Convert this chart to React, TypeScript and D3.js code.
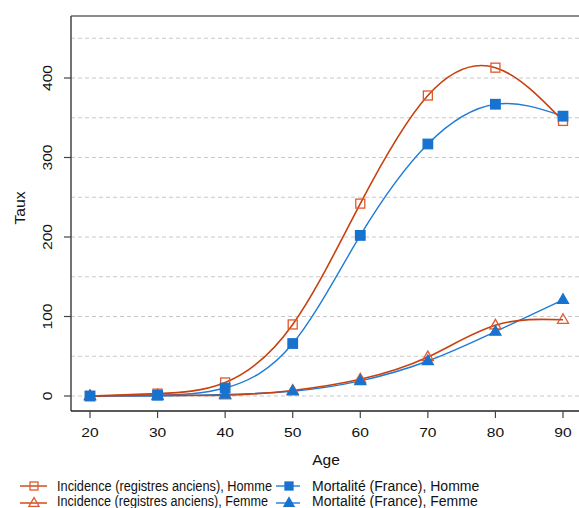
import React from "react";
import * as d3 from "d3";

const ages = [20, 30, 40, 50, 60, 70, 80, 90];
const incHomme = [0, 3, 17, 90, 242, 378, 413, 346];
const incFemme = [0, 1, 1, 7, 21, 49, 89, 96];
const mortHomme = [0, 1, 10, 66, 202, 317, 367, 352];
const mortFemme = [0, 0, 2, 6, 19, 44, 81, 121];
const xTicks = [20, 30, 40, 50, 60, 70, 80, 90];
const yTicks = [0, 100, 200, 300, 400];
const gridVals = [0, 50, 100, 150, 200, 250, 300, 350, 400, 450];
const legendLabels = [
  "Incidence (registres anciens), Homme",
  "Incidence (registres anciens), Femme",
  "Mortalité (France), Homme",
  "Mortalité (France), Femme",
];

const W = 579;
const H = 508;
const ORANGE = "#C8410F";
const ORANGE_M = "#E0592B";
const BLUE = "#1F7BD6";
const BLUE_M = "#1873CF";
const FONT = "Liberation Sans, Arial, Helvetica, sans-serif";

export default function App() {
  const x = d3.scaleLinear().domain([20, 90]).range([90, 563]);
  const y = d3.scaleLinear().domain([0, 400]).range([396, 78]);
  const line = d3
    .line<[number, number]>()
    .x((d) => x(d[0]))
    .y((d) => y(d[1]))
    .curve(d3.curveNatural);
  const pts = (vals: number[]) => ages.map((a, i) => [a, vals[i]] as [number, number]);

  const left = 71;
  const top = 16;
  const bottom = 411;

  const square = (cx: number, cy: number, fill: boolean, color: string, key: string, s = 9) => (
    <rect
      key={key}
      x={cx - s / 2}
      y={cy - s / 2}
      width={s}
      height={s}
      fill={fill ? color : "white"}
      fillOpacity={fill ? 1 : 0}
      stroke={color}
      strokeWidth={1.3}
    />
  );
  const tri = (cx: number, cy: number, fill: boolean, color: string, key: string, s = 11) => {
    const h = s * 0.866;
    const p = `M${cx},${cy - h * 0.62}L${cx + s / 2},${cy + h * 0.38}L${cx - s / 2},${cy + h * 0.38}Z`;
    return (
      <path key={key} d={p} fill={fill ? color : "none"} stroke={color} strokeWidth={1.3} />
    );
  };

  return (
    <svg
      width={W}
      height={H}
      style={{ position: "absolute", left: 0, top: 0, background: "white" }}
      fontFamily={FONT}
    >
      <rect x={0} y={0} width={W} height={H} fill="white" />
      {gridVals.map((v) => (
        <line
          key={"g" + v}
          x1={left}
          x2={W}
          y1={y(v)}
          y2={y(v)}
          stroke="#c8c8c8"
          strokeWidth={1}
          strokeDasharray="4,3"
        />
      ))}
      {/* box */}
      <line x1={left} x2={W} y1={top} y2={top} stroke="#666" strokeWidth={1.3} />
      <line x1={left} x2={left} y1={top} y2={bottom} stroke="#444" strokeWidth={1.5} />
      <line x1={left} x2={W} y1={bottom} y2={bottom} stroke="#222" strokeWidth={1.3} />
      {/* y ticks */}
      {yTicks.map((v) => (
        <g key={"yt" + v}>
          <line x1={left - 7} x2={left} y1={y(v)} y2={y(v)} stroke="#444" strokeWidth={1.2} />
          <text
            transform={`translate(52,${y(v)}) rotate(-90) scale(1.2,1)`}
            textAnchor="middle"
            fontSize={13}
            fill="#111"
          >
            {v}
          </text>
        </g>
      ))}
      {xTicks.map((v) => (
        <g key={"xt" + v}>
          <line x1={x(v)} x2={x(v)} y1={bottom} y2={bottom + 7} stroke="#444" strokeWidth={1.2} />
          <text
            transform={`translate(${x(v)},437) scale(1.2,1)`}
            textAnchor="middle"
            fontSize={13}
            fill="#111"
          >
            {v}
          </text>
        </g>
      ))}
      <text x={326} y={465} textAnchor="middle" fontSize={15.5} fill="#111">
        Age
      </text>
      <text transform="translate(25,208) rotate(-90) scale(1.05,1)" textAnchor="middle" fontSize={15} fill="#111">
        Taux
      </text>

      {/* lines */}
      <path d={line(pts(mortFemme)) || ""} fill="none" stroke={BLUE} strokeWidth={1.4} />
      <path d={line(pts(mortHomme)) || ""} fill="none" stroke={BLUE} strokeWidth={1.4} />
      <path d={line(pts(incFemme)) || ""} fill="none" stroke={ORANGE} strokeWidth={1.6} />
      <path d={line(pts(incHomme)) || ""} fill="none" stroke={ORANGE} strokeWidth={1.6} />

      {/* markers */}
      {ages.map((a, i) => square(x(a), y(incHomme[i]), false, ORANGE_M, "ih" + i))}
      {ages.map((a, i) => tri(x(a), y(incFemme[i]), false, ORANGE_M, "if" + i))}
      {ages.map((a, i) => square(x(a), y(mortHomme[i]), true, BLUE_M, "mh" + i, 9.5))}
      {ages.map((a, i) => tri(x(a), y(mortFemme[i]), true, BLUE_M, "mf" + i))}

      {/* legend */}
      <g>
        <line x1={20} x2={47} y1={486} y2={486} stroke={ORANGE} strokeWidth={1.4} />
        {square(34, 486, false, ORANGE_M, "l1", 8)}
        <text x={57} y={491} fontSize={14} fill="#111" textLength={215} lengthAdjust="spacingAndGlyphs">
          {legendLabels[0]}
        </text>
        <line x1={20} x2={47} y1={503} y2={503} stroke={ORANGE} strokeWidth={1.4} />
        {tri(34, 503, false, ORANGE_M, "l2", 10)}
        <text x={57} y={506} fontSize={14} fill="#111" textLength={211} lengthAdjust="spacingAndGlyphs">
          {legendLabels[1]}
        </text>
        <line x1={276} x2={300} y1={486} y2={486} stroke={BLUE} strokeWidth={1.4} />
        {square(289, 486, true, BLUE_M, "l3", 8)}
        <text x={312} y={491} fontSize={14} fill="#111">{legendLabels[2]}</text>
        <line x1={276} x2={300} y1={503} y2={503} stroke={BLUE} strokeWidth={1.4} />
        {tri(289, 503, true, BLUE_M, "l4", 10)}
        <text x={312} y={506} fontSize={14} fill="#111">{legendLabels[3]}</text>
      </g>
    </svg>
  );
}
